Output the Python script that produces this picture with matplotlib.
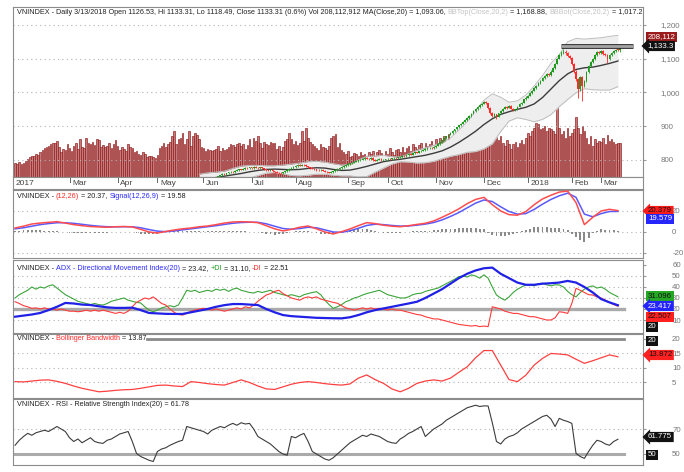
#!/usr/bin/env python3
# VN-Index daily chart with volume, MACD, ADX, Bollinger bandwidth and RSI panes
import numpy as np
import matplotlib; matplotlib.use('Agg')
import matplotlib.pyplot as plt

plt.rcParams['font.family'] = ['Liberation Sans Narrow', 'Liberation Sans', 'DejaVu Sans']

W, H = 684, 472
LAST = 289  # index of 13 Mar 2018

month_labels = ['2017', 'Mar', 'Apr', 'May', 'Jun', 'Jul', 'Aug', 'Sep', 'Oct', 'Nov', 'Dec', '2018', 'Feb', 'Mar']
month_pos = [-1, 26, 49, 68, 90, 113, 134, 159, 178, 201, 224, 245, 266, 280]

# daily volume, millions of shares (index 0..289)
volume = [85, 80, 90, 82, 88, 95, 110, 120, 130, 125,
          140, 135, 150, 165, 175, 180, 190, 200, 210, 205,
          220, 180, 150, 170, 165, 200, 175, 160, 190, 210,
          170, 230, 185, 175, 240, 205, 200, 215, 195, 230,
          225, 180, 195, 185, 190, 210, 175, 200, 225, 190,
          165, 185, 170, 160, 200, 185, 175, 150, 160, 140,
          135, 150, 140, 120, 125, 130, 120, 115, 135, 175,
          190, 210, 180, 200, 215, 250, 280, 200, 230, 240,
          270, 200, 230, 280, 190, 250, 270, 255, 230, 180,
          175, 160, 170, 165, 160, 165, 170, 190, 160, 175,
          165, 170, 185, 200, 195, 180, 200, 210, 190, 200,
          170, 195, 230, 185, 240, 220, 250, 205, 175, 215,
          200, 195, 215, 205, 210, 170, 190, 160, 185, 220,
          230, 270, 230, 200, 220, 195, 210, 280, 220, 300,
          240, 215, 200, 190, 175, 165, 200, 180, 175, 165,
          190, 240, 250, 260, 185, 210, 165, 150, 140, 160,
          120, 130, 145, 140, 125, 150, 135, 140, 130, 155,
          140, 160, 130, 150, 165, 145, 130, 160, 140, 175,
          150, 135, 165, 170, 155, 185, 150, 175, 190, 160,
          200, 180, 170, 195, 205, 175, 210, 190, 200, 220,
          195, 230, 210, 240, 220, 250, 215, 260, 230, 225,
          240, 210, 255, 230, 260, 250, 290, 245, 270, 330,
          300, 260, 240, 285, 220, 270, 250, 235, 280, 290,
          245, 225, 250, 210, 190, 225, 200, 170, 200, 215,
          185, 210, 225, 200, 240, 270, 250, 280, 300, 330,
          320, 290, 300, 310, 280, 300, 290, 280, 260, 447,
          300, 260, 280, 240, 300, 250, 270, 290, 367, 300,
          260, 310, 280, 240, 200, 250, 190, 230, 205, 220,
          215, 240, 200, 255, 220, 230, 215, 200, 205, 208]

# OHLC for the days that fall inside the price window (index 96..289)
opn = [745, 748, 752, 755, 758, 757, 760, 763, 765, 764,
       768, 770, 772, 771, 773, 776, 775, 778, 776, 779,
       777, 776, 778, 775, 772, 770, 768, 770, 766, 764,
       762, 761, 760, 763, 766, 770, 774, 776, 779, 782,
       785, 783, 786, 785, 781, 778, 776, 774, 772, 770,
       769, 770, 768, 765, 763, 762, 764, 766, 770, 773,
       776, 779, 782, 785, 788, 790, 792, 795, 797, 799,
       801, 803, 806, 804, 802, 806, 800, 798, 801, 803,
       800, 800, 802, 804, 803, 805, 807, 806, 808, 809,
       812, 811, 815, 818, 816, 820, 823, 822, 826, 828,
       830, 832, 834, 836, 835, 838, 842, 847, 852, 858,
       864, 870, 875, 880, 886, 891, 897, 903, 908, 913,
       918, 924, 930, 937, 944, 950, 956, 962, 967, 972,
       968, 955, 940, 930, 935, 928, 938, 945, 952, 958,
       955, 960, 952, 948, 950, 958, 966, 970, 980, 985,
       990, 998, 1005, 1012, 1020, 1028, 1035, 1042, 1048, 1055,
       1052, 1062, 1072, 1085, 1100, 1112, 1118, 1121, 1116, 1108,
       1102, 1085, 1062, 1040, 1010, 1045, 1020, 1035, 1060, 1078,
       1090, 1100, 1110, 1120, 1118, 1123, 1115, 1110, 1100, 1112,
       1118, 1122, 1127, 1126.53]
high = [750, 754, 757, 760, 761, 762, 765, 767, 768, 770,
        772, 774, 774, 775, 778, 778, 780, 780, 781, 781,
        779, 780, 780, 777, 774, 772, 772, 772, 768, 766,
        764, 763, 765, 768, 772, 776, 778, 781, 784, 787,
        787, 788, 788, 787, 783, 780, 778, 776, 774, 772,
        772, 772, 770, 767, 765, 766, 768, 772, 775, 778,
        781, 784, 787, 790, 792, 794, 797, 799, 801, 803,
        805, 808, 808, 806, 808, 808, 802, 803, 805, 805,
        802, 804, 806, 806, 807, 809, 809, 810, 811, 814,
        814, 817, 820, 820, 822, 825, 825, 828, 830, 832,
        834, 836, 838, 838, 840, 844, 849, 854, 860, 866,
        872, 877, 882, 888, 893, 899, 905, 910, 915, 921,
        926, 933, 940, 947, 953, 959, 965, 970, 976, 975,
        970, 957, 943, 938, 937, 940, 947, 955, 961, 960,
        962, 962, 955, 952, 960, 968, 973, 982, 988, 993,
        1001, 1008, 1015, 1023, 1031, 1038, 1045, 1051, 1058, 1058,
        1065, 1075, 1088, 1103, 1115, 1122, 1130, 1125, 1119, 1111,
        1105, 1088, 1066, 1043, 1048, 1048, 1038, 1063, 1081, 1093,
        1103, 1113, 1124, 1123, 1127, 1126, 1118, 1113, 1114, 1121,
        1125, 1130, 1130, 1133.31]
low = [743, 746, 750, 753, 755, 755, 758, 761, 762, 762,
       766, 768, 769, 769, 771, 773, 773, 774, 774, 775,
       774, 774, 773, 770, 768, 766, 766, 764, 762, 760,
       759, 758, 758, 761, 764, 768, 772, 774, 777, 780,
       781, 781, 783, 779, 776, 774, 772, 770, 768, 767,
       767, 766, 763, 761, 760, 760, 762, 764, 768, 771,
       774, 777, 780, 783, 786, 788, 790, 793, 795, 797,
       799, 801, 802, 800, 800, 798, 796, 796, 799, 798,
       798, 798, 800, 801, 801, 803, 804, 804, 806, 807,
       809, 809, 813, 814, 814, 818, 820, 820, 824, 826,
       828, 830, 832, 833, 833, 836, 840, 845, 850, 856,
       862, 868, 873, 878, 884, 889, 895, 901, 906, 911,
       916, 922, 928, 935, 941, 948, 954, 960, 965, 965,
       952, 937, 926, 927, 920, 926, 936, 943, 950, 952,
       953, 950, 945, 946, 948, 956, 964, 968, 978, 983,
       988, 995, 1003, 1010, 1018, 1025, 1033, 1040, 1046, 1048,
       1050, 1060, 1070, 1083, 1098, 1109, 1114, 1112, 1104, 1098,
       1080, 1058, 1035, 985, 1005, 975, 1015, 1032, 1057, 1075,
       1087, 1097, 1107, 1114, 1115, 1112, 1107, 1088, 1097, 1109,
       1115, 1119, 1122, 1118.49]
close = [748, 752, 755, 758, 757, 760, 763, 765, 764, 768,
         770, 772, 771, 773, 776, 775, 778, 776, 779, 777,
         776, 778, 775, 772, 770, 768, 770, 766, 764, 762,
         761, 760, 763, 766, 770, 774, 776, 779, 782, 785,
         783, 786, 785, 781, 778, 776, 774, 772, 770, 769,
         770, 768, 765, 763, 762, 764, 766, 770, 773, 776,
         779, 782, 785, 788, 790, 792, 795, 797, 799, 801,
         803, 806, 804, 802, 806, 800, 798, 801, 803, 800,
         800, 802, 804, 803, 805, 807, 806, 808, 809, 812,
         811, 815, 818, 816, 820, 823, 822, 826, 828, 830,
         832, 834, 836, 835, 838, 842, 847, 852, 858, 864,
         870, 875, 880, 886, 891, 897, 903, 908, 913, 918,
         924, 930, 937, 944, 950, 956, 962, 967, 972, 968,
         955, 940, 930, 935, 928, 938, 945, 952, 958, 955,
         960, 952, 948, 950, 958, 966, 970, 980, 985, 990,
         998, 1005, 1012, 1020, 1028, 1035, 1042, 1048, 1055, 1052,
         1062, 1072, 1085, 1100, 1112, 1118, 1121, 1116, 1108, 1102,
         1085, 1062, 1040, 1010, 1045, 1020, 1035, 1060, 1078, 1090,
         1100, 1110, 1120, 1118, 1123, 1115, 1110, 1100, 1112, 1118,
         1122, 1127, 1126, 1133.31]

# MA(20) and Bollinger bands, every 4th day from index 88
ma20 = [740, 745, 748, 752, 756, 760, 765, 769, 772, 773,
        772, 771, 772, 775, 777, 776, 772, 769, 770, 775,
        781, 788, 795, 799, 802, 806, 810, 814, 820, 827,
        838, 852, 868, 885, 905, 922, 935, 943, 950, 956,
        966, 985, 1010, 1035, 1055, 1068, 1073, 1075, 1080, 1086,
        1093]
bb_top = [758, 762, 764, 767, 775, 782, 784, 784, 783, 783,
          785, 788, 791, 795, 796, 794, 789, 785, 787, 800,
          811, 812, 814, 810, 809, 818, 829, 836, 844, 850,
          865, 888, 913, 945, 977, 996, 986, 971, 975, 992,
          1019, 1050, 1086, 1112, 1150, 1160, 1158, 1160, 1162, 1166,
          1169]
bb_bot = [722, 728, 732, 737, 737, 738, 746, 754, 761, 763,
          759, 754, 753, 755, 758, 758, 755, 753, 753, 750,
          751, 764, 776, 788, 795, 794, 791, 792, 796, 804,
          811, 816, 823, 825, 833, 848, 884, 915, 925, 920,
          913, 920, 934, 958, 979, 999, 1011, 1008, 1007, 1007,
          1017]

# MACD(12,26) and signal, every 4th day
macd = [3.8, 5.5, 7.6, 8.5, 9.2, 9.8, 8.5, 7.0, 6.0, 5.2,
        4.8, 4.5, 5.0, 5.2, 4.8, 2.5, 0.0, -1.0, 0.5, 1.9,
        3.0, 3.8, 5.0, 5.7, 7.0, 8.5, 9.5, 9.8, 9.5, 8.9,
        6.0, 3.0, 1.0, 2.5, 4.5, 5.7, 3.0, 0.0, -1.9, 0.3,
        2.9, 6.0, 8.9, 8.0, 6.5, 5.5, 5.0, 6.0, 7.2, 8.3,
        10.5, 14.0, 17.8, 22.0, 27.0, 31.0, 33.0, 26.0, 20.0, 16.5,
        16.0, 19.4, 26.0, 31.5, 35.0, 38.0, 39.0, 28.0, 7.0, 14.0,
        20.0, 21.6, 20.37]
signal = [3.0, 4.0, 5.5, 7.0, 8.0, 8.8, 8.8, 8.2, 7.3, 6.3,
          5.5, 5.0, 4.9, 5.0, 5.0, 4.0, 2.3, 0.8, 0.3, 1.0,
          2.0, 3.0, 4.0, 5.0, 6.0, 7.2, 8.3, 9.0, 9.3, 9.2,
          7.8, 5.5, 3.3, 2.6, 3.3, 4.5, 4.0, 2.0, 0.0, -0.3,
          1.2, 3.5, 6.2, 7.4, 7.0, 6.2, 5.6, 5.7, 6.5, 7.5,
          9.0, 11.5, 14.8, 18.5, 23.0, 27.5, 30.5, 29.0, 24.0, 19.5,
          17.0, 17.5, 21.5, 26.5, 31.0, 34.5, 37.0, 33.0, 17.0, 14.5,
          17.5, 19.5, 19.58]
# histogram, every 2nd day
hist = [0.8, 1.1, 1.5, 1.8, 2.1, 1.9, 1.5, 1.4, 1.2, 1.1,
        1.0, 0.4, -0.3, -0.8, -1.2, -1.3, -1.3, -1.2, -1.1, -0.9,
        -0.7, -0.6, -0.5, -0.2, 0.1, 0.2, 0.2, 0.0, -0.2, -0.9,
        -1.5, -2.0, -2.3, -2.1, -1.8, -0.8, 0.2, 0.6, 0.9, 1.0,
        1.0, 0.9, 0.8, 0.9, 1.0, 0.8, 0.7, 0.8, 1.0, 1.2,
        1.3, 1.3, 1.2, 1.0, 0.8, 0.5, 0.2, 0.0, -0.3, -1.0,
        -1.8, -2.2, -2.5, -2.4, -2.3, -1.2, -0.1, 0.6, 1.2, 1.2,
        1.2, 0.1, -1.0, -1.5, -2.0, -2.0, -1.9, -0.7, 0.6, 1.2,
        1.7, 2.1, 2.5, 2.6, 2.7, 1.6, 0.6, 0.0, -0.5, -0.6,
        -0.7, -0.6, -0.6, -0.2, 0.3, 0.5, 0.7, 0.8, 0.8, 1.2,
        1.5, 2.0, 2.5, 2.8, 3.0, 3.3, 3.5, 3.8, 4.0, 3.8,
        3.5, 3.0, 2.5, -0.5, -3.0, -3.5, -4.0, -3.5, -3.0, -2.0,
        -1.0, 0.5, 1.9, 3.2, 4.5, 4.8, 5.0, 4.5, 4.0, 3.8,
        3.5, 2.8, 2.0, -1.5, -5.0, -8.0, -10.0, -6.0, -0.5, 1.0,
        2.5, 2.3, 2.1, 1.5, 0.8]

# ADX(20) every 4th day, +DI / -DI every 2nd day
adx = [13, 14, 15, 16.4, 19, 22, 25.5, 25, 24, 23.6,
       22.5, 21.5, 21, 21, 21.2, 19, 16.4, 16, 15.6, 15.5,
       15.5, 17, 18.5, 20, 22, 23.5, 24.5, 24.5, 24, 23.6,
       20, 17, 14.5, 13.5, 13, 12.5, 12, 11.8, 11.6, 11.5,
       12.5, 14.5, 17, 19, 20.5, 22, 23.5, 25, 26.6, 30,
       34, 38, 43, 48, 52, 55, 57, 57.6, 52, 48,
       44, 42, 42, 43, 43.4, 44, 45.5, 44, 40, 35,
       29, 26, 23.42]
plus_di = [30, 33, 35, 37, 40, 38, 40, 39, 41, 42,
           39, 36, 33, 31, 29, 27, 26, 25, 24, 25,
           24, 23.6, 25, 27, 28, 29, 30, 28, 27, 26,
           25.5, 22, 19, 17.5, 19, 21, 22, 23, 22, 23.6,
           30, 37, 36, 37, 35, 36, 37, 36, 38, 37,
           38, 36, 38, 39, 37, 36, 35, 34.5, 36, 35,
           36, 37, 35, 34, 33, 32, 33, 32, 31, 33,
           34, 35, 35.7, 33, 28, 24, 20.6, 22, 24, 26.6,
           28, 30, 31, 32.7, 34, 35, 36, 37, 35, 33,
           32, 31, 30, 30, 31, 33, 34, 34.3, 36, 37,
           38, 39, 41, 43, 45, 47, 49.4, 50, 49, 51,
           50, 48, 51, 48, 40, 32.7, 30, 28, 31, 35,
           38, 40, 41.8, 42, 41, 43, 43.4, 42, 41, 42,
           41.8, 40, 36, 33, 31, 35, 38, 40, 41, 39,
           40, 38, 35, 33, 31.1]
minus_di = [26.6, 25, 23, 22, 20.6, 21, 20, 21, 20, 20,
            19, 20, 19, 18, 18, 17.5, 18, 19, 18, 19,
            18, 19, 18, 17, 16, 17, 16, 18, 22, 26,
            28, 30, 29, 31, 28, 25, 23.6, 20, 17, 15,
            14.5, 16, 18, 19, 20, 20.6, 20, 19, 20, 19,
            18, 19, 20, 21, 20, 22, 21, 23.6, 27, 30,
            32.7, 34, 36, 37, 34, 32, 30, 29, 28, 30,
            31, 30, 31, 29, 28, 27, 26, 25.2, 23, 21,
            20, 19, 20, 21, 20, 21, 20, 20.6, 20, 19,
            20, 19, 19, 18, 17, 16, 15, 14.5, 13, 12,
            11, 11, 10, 9, 8, 7, 6, 5.5, 5, 4.5,
            5, 4, 4.5, 4, 22, 21, 20, 18, 17, 16,
            16, 15, 14, 13, 13, 12, 11, 10, 10, 12,
            17.5, 17, 16, 25, 38.8, 37, 35, 33, 32.7, 31,
            30, 28, 26, 24, 22.5]

# Bollinger bandwidth every 4th day
bbw = [5.3, 5.2, 5.5, 5.8, 5.9, 5.4, 4.7, 3.8, 3.0, 2.4,
       1.8, 2.0, 2.3, 2.5, 2.6, 3.0, 3.5, 4.0, 4.1, 3.8,
       3.6, 5.3, 5.0, 4.6, 4.3, 4.1, 5.0, 5.9, 5.0, 3.8,
       2.8, 2.6, 3.5, 4.4, 5.0, 5.3, 5.0, 4.6, 4.3, 4.1,
       4.5, 6.5, 7.6, 6.0, 4.7, 2.8, 1.8, 3.0, 4.7, 5.5,
       5.9, 5.5, 6.5, 8.5, 10.4, 13.5, 16.0, 16.0, 11.0, 6.0,
       5.3, 7.5, 11.0, 13.3, 15.0, 14.8, 14.5, 13.0, 11.6, 12.5,
       13.5, 14.5, 13.87]

# RSI(20) every 2nd day
rsi = [57, 61, 64, 66.5, 65, 67, 68, 69, 68, 70,
       72, 70, 68, 63, 60, 62, 59, 61, 63, 60,
       59, 58.5, 61, 62, 64, 66, 67, 68, 60, 50.5,
       48, 46.5, 45, 44, 52, 54, 55, 57, 58.5, 60,
       61, 72, 71, 70, 69, 68, 66, 69, 70.5, 72,
       71, 73, 74.5, 73, 75, 74, 74.5, 70, 64, 62,
       60, 58, 55, 52, 50, 49, 64, 63, 65, 66.5,
       60, 52, 50, 48, 46, 45, 47, 50, 53, 56,
       59, 61, 63, 65, 64, 66, 65, 64, 62, 60,
       59, 58.5, 62, 64, 66.5, 68, 70, 72, 64, 67,
       70, 72, 74, 77, 79, 81, 83, 85, 87, 88,
       89, 88, 88.5, 88.4, 75, 60, 58, 62, 64, 65,
       67, 70, 72, 74, 76, 78, 80, 81, 78, 72,
       78.5, 77, 76, 74.5, 50.5, 48, 46.5, 52, 57, 61,
       60, 58, 57, 60, 61.78]

RED, GREEN, BLUE = '#ff2a2a', '#1e9a1e', '#2b2bff'
FS = 5.7    # tick labels, tags
HFS = 5.25  # pane headers


def box(y0, y1):
    return [13 / W, 1 - y1 / H, 630 / W, (y1 - y0) / H]


def style(a, ylim, ticks, labels, pad, dotted):
    a.set_xlim(-1, 300); a.set_ylim(*ylim)
    a.set_xticks([])
    for s in a.spines.values():
        s.set_color('#8c8c8c'); s.set_linewidth(0.8)
    a.yaxis.tick_right()
    a.set_yticks(ticks); a.set_yticklabels(labels)
    a.tick_params(axis='y', length=2, pad=pad, labelsize=FS, labelcolor='#777777', color='#999999')
    for g in dotted:
        a.axhline(g, color='#b4b4b4', lw=0.8, ls=(0, (1, 3)), zorder=0)


def header(a, y, pieces, clip=False):
    t = a.text(0.006, y, pieces[0][0], color=pieces[0][1], transform=a.transAxes,
               fontsize=HFS, va='bottom', clip_on=clip, zorder=6)
    for s, col in pieces[1:]:
        t = a.annotate(s, xy=(1, 0), xycoords=t, va='bottom', color=col, fontsize=HFS,
                       clip_on=clip, zorder=6)


def tag(y, s, fc, tc='white', arrow=False, x=648):
    fig.text(x / W, 1 - y / H, s, fontsize=FS, color=tc, va='center', ha='left', zorder=10,
             bbox=dict(boxstyle='larrow,pad=0.2' if arrow else 'square,pad=0.2', fc=fc, ec='none'))


fig = plt.figure(figsize=(W / 100, H / 100), dpi=100)

# ---- price pane (volume underneath) ----
axv = fig.add_axes(box(7, 177))
axv.set_xlim(-1, 300); axv.set_ylim(0, 1035); axv.axis('off')
axv.bar(np.arange(len(volume)), volume, width=0.75, color='#c47a7a', edgecolor='#8e1515', lw=0.45)

ax = fig.add_axes(box(7, 177))
ax.patch.set_visible(False)
style(ax, (749.6, 1253), [800, 900, 1000, 1100, 1200], ['800', '900', '1,000', '1,100', '1,200'],
      10.5, [800, 900, 1000, 1100, 1200])
xk = 88 + 4 * np.arange(len(ma20))
ax.fill_between(xk, bb_bot, bb_top, color='#eeeeee', lw=0, zorder=1)
ax.plot(xk, bb_top, color='#bdbdbd', lw=0.7, zorder=2)
ax.plot(xk, bb_bot, color='#bdbdbd', lw=0.7, zorder=2)
ax.plot(xk, ma20, color='#3c3c3c', lw=1.0, zorder=2)
xd = np.arange(LAST - len(close) + 1, LAST + 1)
o, hi, lo, c = map(np.array, (opn, high, low, close))
cols = np.where(c >= o, GREEN, RED)
ax.vlines(xd, lo, hi, colors=cols, lw=0.6, zorder=3)
ax.bar(xd, np.maximum(np.abs(c - o), 1.2), bottom=np.minimum(o, c), width=0.8, color=cols, lw=0, zorder=4)
ax.plot([261, 295], [1138, 1138], color='#222222', lw=3.4, solid_capstyle='butt', zorder=5)
ax.plot([261, 295], [1138, 1138], color='#a6a6a6', lw=2.0, solid_capstyle='butt', zorder=5)
header(ax, 0.95, [("VNINDEX - Daily 3/13/2018 Open 1126.53, Hi 1133.31, Lo 1118.49, Close 1133.31 (0.6%) "
                   "Vol 208,112,912 MA(Close,20) = 1,093.06, ", '#222222'),
                  ("BBTop(Close,20,2)", '#c4c4c4'), (" = 1,168.88, ", '#222222'),
                  ("BBBot(Close,20,2)", '#c4c4c4'), (" = 1,017.2", '#222222')], clip=True)

# ---- date strip ----
axs = fig.add_axes(box(177, 189))
axs.set_xlim(-1, 300); axs.set_ylim(0, 1)
axs.set_xticks([]); axs.set_yticks([])
for s in axs.spines.values():
    s.set_color('#8c8c8c'); s.set_linewidth(0.8)
for p, lab in zip(month_pos, month_labels):
    axs.plot([p, p], [1, 0.55], color='#666666', lw=0.7)
    axs.text(p + 1.2, 0.42, lab, fontsize=6, color='#444444', va='center', ha='left')

# ---- MACD ----
axm = fig.add_axes(box(190, 258))
style(axm, (-24.8, 40), [-20, 0, 20], ['-20', '0', '20'], 19, [-20, 0, 20])
axm.bar(2 * np.arange(len(hist)), hist, width=0.9, color='#8a8a8a', lw=0, zorder=2)
axm.plot(4 * np.arange(len(signal)), signal, color='#5a5aff', lw=1.1, zorder=3)
axm.plot(4 * np.arange(len(macd)), macd, color='#ff4d4d', lw=1.1, zorder=4)
header(axm, 0.86, [("VNINDEX - ", '#222222'), ("(12,26)", RED), (" = 20.37, ", '#222222'),
                   ("Signal(12,26,9)", BLUE), (" = 19.58", '#222222')])

# ---- ADX ----
axa = fig.add_axes(box(260, 333))
style(axa, (-1.8, 64.5), [10, 20, 30, 40, 50, 60], ['10', '20', '30', '40', '50', '60'], 19, [10, 30, 40, 50])
axa.plot([-1, 291], [20, 20], color='#aaaaaa', lw=2.4, zorder=1)
axa.plot(2 * np.arange(len(plus_di)), plus_di, color='#3aa53a', lw=0.8, zorder=2)
axa.plot(2 * np.arange(len(minus_di)), minus_di, color='#ff3a3a', lw=0.8, zorder=2)
axa.plot(4 * np.arange(len(adx)), adx, color='#2020e6', lw=1.6, zorder=3)
header(axa, 0.84, [("VNINDEX - ", '#222222'), ("ADX - Directional Movement Index(20)", BLUE),
                   (" = 23.42, ", '#222222'), ("+DI", GREEN), (" = 31.10, ", '#222222'),
                   ("-DI", RED), (" = 22.51", '#222222')])

# ---- Bollinger bandwidth ----
axb = fig.add_axes(box(334, 398))
style(axb, (-0.34, 21.7), [5, 10, 15, 20], ['5', '10', '15', '20'], 19, [5, 10, 15])
axb.plot([63, 291], [20, 20], color='#8a8a8a', lw=2.0, zorder=1)
axb.plot(4 * np.arange(len(bbw)), bbw, color='#ff4040', lw=0.9, zorder=2)
header(axb, 0.87, [("VNINDEX - ", '#222222'), ("Bollinger Bandwidth", RED), (" = 13.87", '#222222')])

# ---- RSI ----
axr = fig.add_axes(box(399, 465))
style(axr, (41.2, 94), [50, 70], ['50', '70'], 19, [70])
axr.plot([-1, 291], [50, 50], color='#aaaaaa', lw=2.2, zorder=1)
axr.plot(2 * np.arange(len(rsi)), rsi, color='#3c3c3c', lw=0.8, zorder=2)
header(axr, 0.86, [("VNINDEX - RSI - Relative Strength Index(20) = 61.78", '#222222')])

# ---- last-value tags on the right ----
tag(37, '208,112', '#9b1c1c')
tag(46, '1,133.3', '#111111', arrow=True, x=647)
tag(211, '20.379', '#ff1a1a', tc='#111111', arrow=True)
tag(219, '19.579', '#2626ff')
tag(296, '31.096', '#24a824', tc='#111111')
tag(306, '23.417', '#2424ff', arrow=True)
tag(317, '22.507', '#ff2020', tc='#111111')
tag(327, '20', '#111111')
tag(341, '20', '#111111')
tag(355, '13.872', '#ff2020', tc='#111111', arrow=True)
tag(437, '61.775', '#111111', arrow=True)
tag(455, '50', '#111111')

fig.savefig('out.png', dpi=100)
